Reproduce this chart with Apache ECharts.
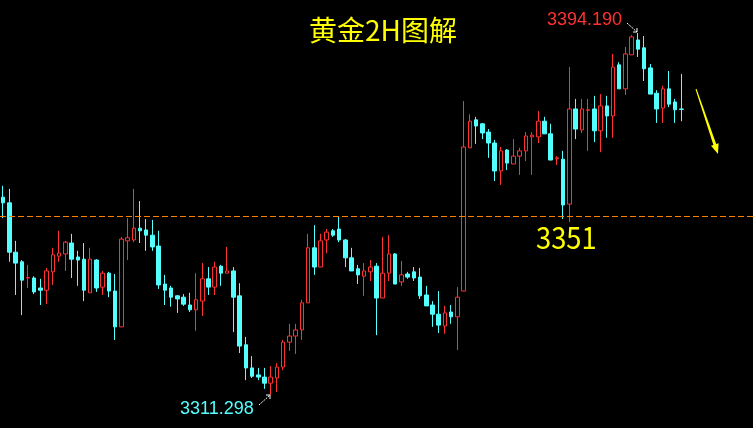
<!DOCTYPE html>
<html>
<head>
<meta charset="utf-8">
<script src="https://cdn.jsdelivr.net/npm/echarts@6/dist/echarts.min.js"></script>
<style>
html,body{margin:0;padding:0;background:#000;}
#chart{width:753px;height:428px;}
</style>
</head>
<body>
<div id="chart"></div>
<script>
const categories = Array.from({length: 121}, (_, i) => String(i + 1));

const opens = [3356.6,3355.3,3344.0,3341.8,3338.1,3338.1,3335.8,3335.3,3339.5,3343.1,
3343.6,3346.1,3342.9,3342.4,3334.7,3342.2,3336.0,3339.2,3335.1,3326.9,
3346.6,3346.8,3349.5,3349.1,3347.9,3345.4,3336.7,3335.8,3334.0,3333.7,
3331.9,3330.8,3332.8,3337.9,3336.0,3340.8,3339.2,3339.7,3334.0,3322.8,
3317.5,3315.9,3315.4,3314.0,3315.2,3317.7,3323.4,3324.8,3326.2,3332.4,
3345.0,3340.6,3346.8,3348.9,3349.3,3346.8,3342.7,3340.2,3338.5,3339.5,
3340.8,3333.5,3339.2,3343.6,3337.2,3339.0,3339.5,3338.3,3334.2,3331.9,
3329.8,3327.1,3330.3,3329.2,3335.1,3367.9,3374.3,3373.4,3371.5,3369.0,
3362.6,3367.4,3364.2,3366.0,3367.2,3370.4,3370.4,3374.0,3371.1,3365.4,
3365.3,3355.0,3376.8,3372.0,3376.5,3376.8,3371.8,3377.5,3375.2,3386.9,
3381.4,3389.2,3392.6,3390.8,3386.2,3380.4,3377.0,3381.4,3378.4,3376.8];

const closes = [3355.3,3344.0,3341.5,3337.6,3338.2,3334.9,3335.3,3339.7,3343.4,3343.8,
3346.3,3342.4,3342.2,3335.3,3342.4,3335.8,3339.2,3335.1,3326.9,3347.0,
3347.3,3349.5,3348.9,3347.9,3345.2,3336.5,3335.3,3333.7,3333.3,3332.1,
3330.8,3333.1,3337.9,3336.0,3340.6,3339.2,3339.7,3333.7,3322.5,3317.5,
3315.6,3315.4,3314.0,3315.4,3317.7,3323.4,3324.8,3326.2,3332.4,3345.0,
3340.6,3346.6,3348.6,3347.9,3346.8,3342.7,3339.7,3338.8,3339.7,3340.6,
3333.5,3339.2,3343.6,3336.7,3338.8,3338.3,3338.1,3334.0,3331.7,3329.8,
3327.3,3330.1,3329.2,3333.7,3368.1,3374.0,3372.9,3371.3,3369.0,3362.6,
3367.2,3364.4,3366.0,3367.2,3370.6,3370.8,3374.0,3371.1,3365.1,3365.6,
3354.8,3376.8,3372.2,3376.8,3376.6,3371.8,3377.5,3375.2,3386.4,3381.4,
3389.4,3393.3,3390.5,3386.0,3380.2,3376.8,3381.4,3377.9,3376.6,3376.7];

const lows = [3351.8,3341.8,3334.2,3329.6,3335.8,3334.4,3331.9,3332.1,3336.5,3341.8,
3339.7,3338.1,3336.3,3332.8,3334.7,3334.9,3334.2,3333.7,3323.9,3326.9,
3342.2,3346.3,3346.1,3344.3,3344.3,3335.6,3331.9,3331.5,3330.1,3331.7,
3330.3,3326.0,3329.4,3334.2,3334.2,3336.3,3339.2,3325.7,3320.9,3314.7,
3315.2,3314.7,3312.7,3311.3,3312.0,3317.0,3321.4,3320.7,3323.9,3332.4,
3338.8,3340.6,3343.8,3347.5,3346.3,3340.6,3339.7,3336.7,3334.0,3337.4,
3325.0,3333.5,3337.4,3336.7,3336.3,3337.9,3337.4,3333.3,3331.7,3326.9,
3325.5,3325.3,3327.6,3321.6,3335.1,3367.9,3368.8,3369.9,3365.6,3360.3,
3359.4,3362.8,3364.2,3361.7,3364.9,3361.7,3369.0,3371.1,3365.1,3364.0,
3351.6,3350.9,3369.9,3371.3,3367.2,3369.2,3366.9,3370.2,3370.2,3381.4,
3380.0,3389.2,3388.7,3383.2,3380.2,3373.6,3373.6,3377.2,3373.6,3374.0];

const highs = [3359.2,3358.5,3346.6,3342.2,3341.1,3338.5,3337.9,3340.4,3345.0,3348.9,
3346.6,3348.2,3344.3,3346.1,3345.0,3342.4,3339.7,3339.5,3339.0,3347.5,
3351.8,3358.5,3355.7,3351.6,3351.4,3348.9,3338.8,3336.3,3334.2,3334.4,
3334.7,3339.2,3341.5,3340.6,3341.8,3341.1,3345.2,3340.6,3336.9,3324.6,
3320.2,3317.5,3317.5,3317.9,3318.6,3323.9,3327.6,3327.6,3333.1,3348.2,
3350.2,3348.2,3349.3,3349.3,3352.3,3347.0,3345.0,3341.1,3341.5,3342.2,
3341.5,3347.5,3347.9,3343.8,3342.0,3339.5,3340.6,3340.4,3336.3,3332.8,
3335.1,3331.7,3331.9,3336.0,3378.6,3375.6,3375.0,3373.6,3372.2,3369.7,
3368.1,3367.6,3369.9,3367.9,3371.5,3371.5,3376.3,3375.0,3373.4,3366.0,
3367.2,3386.4,3379.1,3379.1,3379.1,3379.8,3380.2,3379.8,3389.4,3387.5,
3391.0,3393.7,3394.2,3393.5,3387.1,3381.1,3382.1,3385.5,3379.1,3384.8];

const levelValue = 3352.3;
const levelLabel = '3351';
const highLabel = '3394.190';
const lowLabel = '3311.298';
const titleText = '黄金2H图解';

const kData = opens.map((o, i) => [o, closes[i], lows[i], highs[i]]);

const chart = echarts.init(document.getElementById('chart'), null, {renderer: 'canvas'});
chart.setOption({
  backgroundColor: '#000000',
  animation: false,
  grid: {left: 0, right: 0, top: 0, bottom: 0},
  xAxis: {type: 'category', data: categories, boundaryGap: true, show: false},
  yAxis: {type: 'value', min: 3303.74, max: 3401.75, show: false, splitLine: {show: false}},
  series: [{
    type: 'candlestick',
    data: kData,
    barWidth: 4,
    itemStyle: {
      color: '#000000',
      borderColor: '#ff3232',
      color0: '#54ffff',
      borderColor0: '#54ffff',
      borderWidth: 1
    },
    markLine: {
      silent: true,
      symbol: ['none', 'none'],
      label: {show: false},
      lineStyle: {color: '#ff8000', type: [6, 3], width: 1},
      data: [{yAxis: levelValue}]
    }
  }],
  graphic: [
    {type: 'text', x: 383, y: 30, style: {text: titleText, fill: '#ffff00', font: '28px "Noto Sans CJK SC"', textAlign: 'center', textVerticalAlign: 'middle'}},
    {type: 'text', x: 547, y: 20, style: {text: highLabel, fill: '#ff3232', font: '18px "Liberation Sans"', textAlign: 'left', textVerticalAlign: 'middle'}},
    {type: 'text', x: 180, y: 409, style: {text: lowLabel, fill: '#54ffff', font: '18px "Liberation Sans"', textAlign: 'left', textVerticalAlign: 'middle'}},
    {type: 'text', x: 536, y: 237, scaleX: 0.88, style: {text: levelLabel, fill: '#ffff00', font: '31px "Noto Sans CJK SC"', textAlign: 'left', textVerticalAlign: 'middle'}},
    {type: 'line', shape: {x1: 627, y1: 23, x2: 637, y2: 32}, style: {stroke: '#ffffff', lineWidth: 1, lineDash: [2, 1]}},
    {type: 'polyline', shape: {points: [[633, 32], [637, 32], [637, 28]]}, style: {stroke: '#ffffff', lineWidth: 1}},
    {type: 'line', shape: {x1: 259, y1: 405, x2: 270, y2: 395}, style: {stroke: '#ffffff', lineWidth: 1, lineDash: [2, 1]}},
    {type: 'polyline', shape: {points: [[266, 395], [270, 395], [270, 399]]}, style: {stroke: '#ffffff', lineWidth: 1}},
    {type: 'polygon', shape: {points: [[695.5, 89.2], [696.5, 88.8], [716.2, 144.0], [718.6, 143.2], [718, 154], [711.0, 145.8], [713.4, 145.0]]}, style: {fill: '#ffff00'}}
  ]
});
</script>
</body>
</html>
